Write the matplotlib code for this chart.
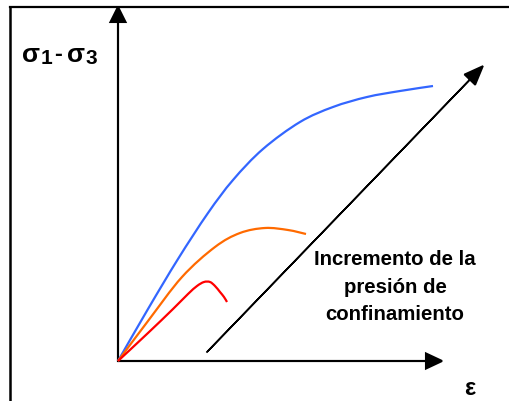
import matplotlib
matplotlib.use('Agg')
import matplotlib.pyplot as plt
from matplotlib.path import Path
from matplotlib.patches import PathPatch

# deviator stress vs strain sketch, one curve per confining pressure
# (x, y) measured from the origin of the axes
blue_x = [0, 30, 60, 90, 115, 145, 182, 215, 249, 282, 315]
blue_y = [0, 52, 102, 148, 181, 212, 239, 254, 264, 270, 275]

orange_x = [0, 30, 64, 97, 122, 147, 170, 188]
orange_y = [0, 40, 84, 114, 128, 133, 131, 127]

red_x = [0, 30, 55, 70, 79, 86, 92, 97, 102, 106, 109]
red_y = [0, 28, 52, 67, 75, 79, 79, 75, 69, 64, 59]

y_label = [('σ', 19, 0), ('1', 15, -2), ('-', 17, 1), ('σ', 19, 0), ('3', 15, -2)]
x_label = 'ε'
arrow_label = ['Incremento de la', 'presión de', 'confinamiento']

plt.rcParams['font.family'] = ['Liberation Sans', 'DejaVu Sans']


def smooth_curve(xs, ys):
    # Catmull-Rom through the given points, drawn as cubic Bezier segments
    pts = list(zip(xs, ys))
    verts = [pts[0]]
    codes = [Path.MOVETO]
    for i in range(len(pts) - 1):
        p0 = pts[max(i - 1, 0)]
        p1 = pts[i]
        p2 = pts[i + 1]
        p3 = pts[min(i + 2, len(pts) - 1)]
        c1 = (p1[0] + (p2[0] - p0[0]) / 6, p1[1] + (p2[1] - p0[1]) / 6)
        c2 = (p2[0] - (p3[0] - p1[0]) / 6, p2[1] - (p3[1] - p1[1]) / 6)
        verts += [c1, c2, p2]
        codes += [Path.CURVE4] * 3
    return Path(verts, codes)


fig = plt.figure(figsize=(5.1, 4.02), dpi=100)
ax = fig.add_axes([0, 0, 1, 1])
ax.set_xlim(-118, 392)
ax.set_ylim(-40, 362)
ax.axis('off')

# frame on top and left
ax.plot([-108, 392], [354, 354], color='black', lw=1.6, clip_on=False)
ax.plot([-108, -108], [354, -40], color='black', lw=1.8, clip_on=False)

# axes with arrow heads
ax.arrow(0, 0, 0, 354, color='black', lw=1.5, head_width=15, head_length=15,
         length_includes_head=True, overhang=0)
ax.arrow(0, 0, 324, 0, color='black', lw=1.5, head_width=15, head_length=16,
         length_includes_head=True, overhang=0)

for xs, ys, col in [(blue_x, blue_y, '#3366ff'),
                    (orange_x, orange_y, '#ff6a00'),
                    (red_x, red_y, '#ff0000')]:
    ax.add_patch(PathPatch(smooth_curve(xs, ys), fill=False, edgecolor=col,
                           lw=1.6, capstyle='butt'))

# diagonal arrow for increasing confinement
ax.arrow(89, 9, 276, 286, color='black', lw=1.2, head_width=15, head_length=19,
         length_includes_head=True, overhang=0)

# y label built piece by piece (subscripts lowered)
renderer = fig.canvas.get_renderer()
x_px = 22
for s, size, dy in y_label:
    t = fig.text(x_px / 510, (402 - 62 + dy) / 402, s, fontsize=size,
                 fontweight='bold', ha='left', va='baseline')
    bb = t.get_window_extent(renderer)
    x_px = bb.x1 + (5 if s == '-' else 1)

ax.text(352, -33, x_label, fontsize=17, fontweight='bold', ha='center', va='baseline')
for line, base in zip(arrow_label, [97, 69, 42]):
    ax.text(277, base, line, fontsize=14.7, fontweight='bold', ha='center',
            va='baseline')

fig.savefig('out.png', dpi=100)
